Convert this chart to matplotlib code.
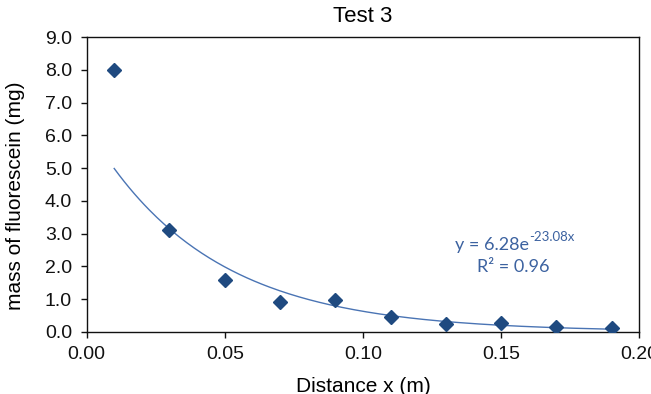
import matplotlib
matplotlib.use("Agg")
import matplotlib.pyplot as plt
import numpy as np

plt.rcParams['font.family'] = ['Liberation Sans', 'DejaVu Sans']

distance = [0.01, 0.03, 0.05, 0.07, 0.09, 0.11, 0.13, 0.15, 0.17, 0.19]
mass = [8.0, 3.1, 1.57, 0.9, 0.96, 0.46, 0.24, 0.27, 0.15, 0.12]

# exponential trendline as printed on the chart
fit_a = 6.28
fit_b = -23.08
fit_r2 = 0.96

fig = plt.figure(figsize=(6.51, 3.94), dpi=100)
ax = fig.add_axes([0.133, 0.158, 0.849, 0.748])

xs = np.linspace(min(distance), max(distance), 200)
ax.plot(xs, fit_a * np.exp(fit_b * xs), color='#4a74b4', lw=1.0, zorder=2)
ax.plot(distance, mass, 'D', color='#1f4a80', ms=7.5, zorder=3)

ax.set_xlim(0, 0.20)
ax.set_ylim(0, 9)
ax.set_xticks(np.arange(0, 0.201, 0.05))
ax.set_yticks(np.arange(0, 9.01, 1))
ax.xaxis.set_major_formatter(matplotlib.ticker.FormatStrFormatter('%.2f'))
ax.yaxis.set_major_formatter(matplotlib.ticker.FormatStrFormatter('%.1f'))
ax.tick_params(direction='out', length=4.5, width=1, pad=6, labelsize=14, colors='#111111')
for s in ax.spines.values():
    s.set_color('#111111')
    s.set_linewidth(1)

ax.set_title('Test 3', fontsize=16, pad=11)
ax.set_ylabel('mass of fluorescein (mg)', fontsize=15)
ax.set_xlabel('Distance x (m)', fontsize=15)
ax.yaxis.set_label_coords(-0.112, 0.46)
ax.xaxis.set_label_coords(0.5, -0.155)

eq_font = dict(family=['Lato', 'DejaVu Sans'], color='#3c62a0')
eq = ax.text(0.1334, 2.65, 'y = %.2fe' % fit_a, fontsize=13, ha='left', va='center', **eq_font)
ax.annotate('%.2fx' % fit_b, xy=(1.0, 0.62), xycoords=eq, fontsize=9.5,
            ha='left', va='bottom', **eq_font)
ax.text(0.1545, 1.98, 'R² = %.2f' % fit_r2, fontsize=13, ha='center', va='center', **eq_font)

fig.savefig('out.png', dpi=100)
